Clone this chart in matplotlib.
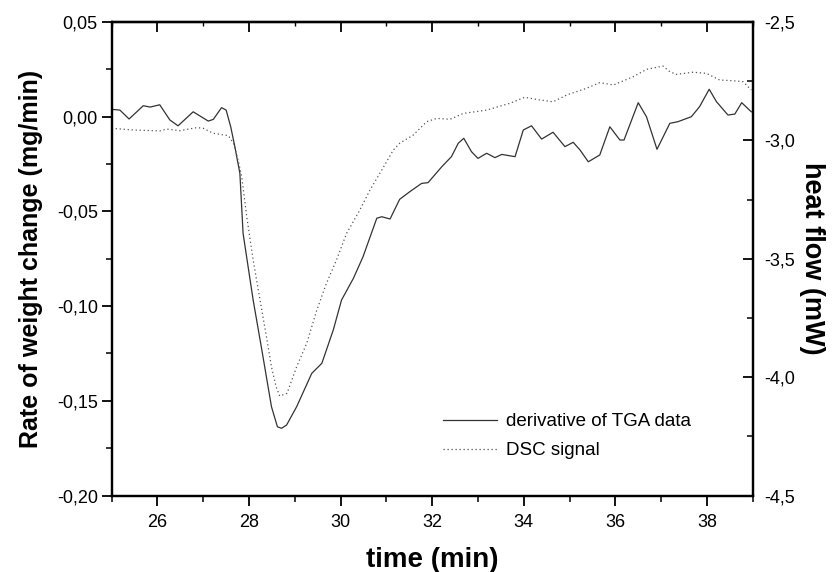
import matplotlib
matplotlib.use("Agg")
import matplotlib.pyplot as plt
from matplotlib.ticker import MultipleLocator, FuncFormatter

# derivative of TGA data (left axis, mg/min)
tga_time = [25.00, 25.18, 25.38, 25.69, 25.84, 26.05, 26.27, 26.45, 26.78, 27.11,
            27.22, 27.40, 27.50, 27.60, 27.69, 27.80, 27.87, 28.09, 28.28, 28.49,
            28.62, 28.71, 28.82, 29.04, 29.37, 29.59, 29.84, 30.02, 30.28, 30.49,
            30.79, 30.90, 31.08, 31.29, 31.51, 31.77, 31.91, 32.21, 32.42, 32.57,
            32.69, 32.86, 33.00, 33.19, 33.37, 33.52, 33.81, 33.99, 34.17, 34.39,
            34.64, 34.90, 35.08, 35.23, 35.41, 35.66, 35.88, 36.10, 36.19, 36.50,
            36.68, 36.91, 37.19, 37.37, 37.66, 37.84, 38.05, 38.21, 38.46, 38.61,
            38.76, 38.97]
tga_rate = [0.0039, 0.0035, -0.0012, 0.0058, 0.0051, 0.0063, -0.0017, -0.0048, 0.0026, -0.0023,
            -0.0014, 0.0048, 0.0035, -0.0053, -0.0158, -0.0299, -0.0616, -0.0968, -0.1232, -0.1531,
            -0.1637, -0.1645, -0.1628, -0.1531, -0.1355, -0.1302, -0.1126, -0.0968, -0.0853, -0.0739,
            -0.0536, -0.0528, -0.0540, -0.0436, -0.0396, -0.0352, -0.0348, -0.0264, -0.0211, -0.0140,
            -0.0114, -0.0185, -0.0220, -0.0193, -0.0216, -0.0199, -0.0211, -0.0070, -0.0048, -0.0118,
            -0.0082, -0.0158, -0.0135, -0.0176, -0.0238, -0.0202, -0.0053, -0.0123, -0.0123, 0.0074,
            0.0000, -0.0172, -0.0035, -0.0026, 0.0000, 0.0053, 0.0145, 0.0079, 0.0009, 0.0014,
            0.0074, 0.0026]

# DSC signal (right axis, mW)
dsc_time = [25.00, 25.47, 26.05, 26.20, 26.49, 26.86, 27.00, 27.22, 27.55, 27.66,
            27.76, 27.84, 27.95, 28.09, 28.24, 28.38, 28.49, 28.59, 28.67, 28.83,
            29.04, 29.26, 29.48, 29.69, 29.91, 30.13, 30.42, 30.64, 30.90, 31.15,
            31.29, 31.59, 31.88, 32.10, 32.39, 32.68, 33.19, 33.70, 34.02, 34.35,
            34.64, 34.94, 35.37, 35.66, 35.96, 36.39, 36.68, 37.04, 37.19, 37.33,
            37.70, 37.99, 38.28, 38.57, 38.79, 38.97]
dsc_flow = [-2.949, -2.956, -2.960, -2.952, -2.959, -2.946, -2.949, -2.970, -2.980, -3.012,
            -3.083, -3.153, -3.322, -3.505, -3.674, -3.829, -3.956, -4.040, -4.080, -4.068,
            -3.956, -3.857, -3.717, -3.604, -3.505, -3.393, -3.294, -3.210, -3.125, -3.041,
            -3.012, -2.977, -2.921, -2.907, -2.911, -2.886, -2.872, -2.843, -2.818, -2.829,
            -2.837, -2.808, -2.780, -2.756, -2.766, -2.731, -2.700, -2.686, -2.710, -2.721,
            -2.712, -2.717, -2.745, -2.748, -2.752, -2.787]

plt.rcParams['font.family'] = ['Liberation Sans', 'DejaVu Sans']

fig = plt.figure(figsize=(8.34, 5.72), dpi=100)
ax = fig.add_axes([0.1339, 0.1337, 0.9025 - 0.1339, 0.9615 - 0.1337])
ax2 = ax.twinx()

l1, = ax.plot(tga_time, tga_rate, color='#333333', lw=0.9, label='derivative of TGA data')
l2, = ax2.plot(dsc_time, dsc_flow, color='#555555', lw=0.9, ls=(0, (1, 2.2)), label='DSC signal')

ax.set_xlim(25, 39)
ax.set_ylim(-0.20, 0.05)
ax2.set_ylim(-4.5, -2.5)

ax.xaxis.set_major_locator(MultipleLocator(2))
ax.xaxis.set_minor_locator(MultipleLocator(1))
ax.yaxis.set_major_locator(MultipleLocator(0.05))
ax.yaxis.set_minor_locator(MultipleLocator(0.025))
ax2.yaxis.set_major_locator(MultipleLocator(0.5))
ax2.yaxis.set_minor_locator(MultipleLocator(0.25))

ax.yaxis.set_major_formatter(FuncFormatter(lambda v, p: f"{v:.2f}".replace('.', ',').replace('-0,00', '0,00')))
ax2.yaxis.set_major_formatter(FuncFormatter(lambda v, p: f"{v:.1f}".replace('.', ',')))

ax.tick_params(axis='both', which='major', direction='out', length=7, width=1.3, labelsize=13)
ax.tick_params(axis='both', which='minor', direction='out', length=4, width=1.1)
ax.tick_params(axis='y', pad=3)
ax.tick_params(axis='x', pad=6)
ax2.tick_params(axis='y', which='major', direction='in', length=7, width=1.3, labelsize=13, pad=8)
ax2.tick_params(axis='y', which='minor', direction='in', length=4, width=1.1)

top = ax.secondary_xaxis('top')
top.xaxis.set_major_locator(MultipleLocator(2))
top.xaxis.set_minor_locator(MultipleLocator(1))
top.tick_params(which='major', direction='in', length=7, width=1.3, labeltop=False)
top.tick_params(which='minor', direction='in', length=3, width=1.0)
top.spines['top'].set_linewidth(1.6)

for a in (ax, ax2):
    for s in a.spines.values():
        s.set_linewidth(1.6)

ax.set_xlabel('time (min)', fontsize=20, fontweight='bold', labelpad=12)
ax.set_ylabel('Rate of weight change (mg/min)', fontsize=18, fontweight='bold', labelpad=10)
ax2.set_ylabel('heat flow (mW)', fontsize=19.5, fontweight='bold', rotation=270, labelpad=22)

fig.legend([l1, l2], [l1.get_label(), l2.get_label()], loc='upper left',
           bbox_to_anchor=(443 / 834, 1 - 413 / 572), bbox_transform=fig.transFigure,
           frameon=False, fontsize=13.5, handlelength=2.9, handletextpad=0.45,
           labelspacing=0.65, borderpad=0, borderaxespad=0)

fig.savefig('out.png', dpi=100)
